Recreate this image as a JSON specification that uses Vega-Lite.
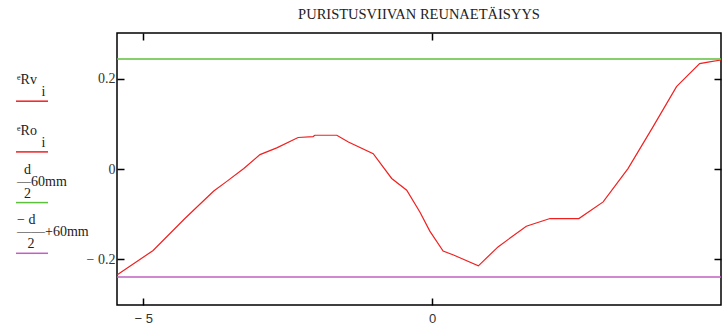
{
  "$schema": "https://vega.github.io/schema/vega-lite/v6.json",
  "background": "white",
  "padding": {"left": 10, "top": 6, "right": 0, "bottom": 0},
  "bounds": "flush",
  "spacing": 27,
  "config": {"view": {"stroke": null}},
  "hconcat": [
    {
      "width": 80,
      "height": 272,
      "data": {"values": [
        {"k": 1, "series": "eRv", "label": "\nᵉRv\n\u200b\u00a0\u00a0\u00a0\u00a0\u00a0\u00a0\u00a0i"},
        {"k": 2, "series": "eRo", "label": "\nᵉRo\n\u200b\u00a0\u00a0\u00a0\u00a0\u00a0\u00a0\u00a0i"},
        {"k": 3, "series": "d/2-60mm", "label": "\u200b\u00a0\u00a0d\n—60mm\n\u200b\u00a0\u00a02"},
        {"k": 4, "series": "-d/2+60mm", "label": "−\u00a0d\n——+60mm\n\u200b\u00a0\u00a0\u00a02"}
      ]},
      "encoding": {
        "y": {"field": "k", "type": "quantitative", "scale": {"domain": [-0.345, 5.02], "reverse": true, "nice": false, "zero": false}, "axis": null}
      },
      "layer": [
        {
          "mark": {"type": "rule", "strokeWidth": 1.5},
          "encoding": {
            "x": {"datum": 0.075, "type": "quantitative", "scale": {"domain": [0, 1], "nice": false}, "axis": null},
            "x2": {"datum": 0.475},
            "color": {"field": "series", "type": "nominal", "scale": {"domain": ["eRv", "eRo", "d/2-60mm", "-d/2+60mm"], "range": ["#f02020", "#f02020", "#5cc03c", "#c060c0"]}, "legend": null}
          }
        },
        {
          "mark": {"type": "text", "align": "left", "baseline": "middle", "dy": -33, "font": "Liberation Serif", "fontSize": 14, "lineBreak": "\n", "lineHeight": 12, "color": "#222"},
          "encoding": {
            "x": {"datum": 0.0875, "type": "quantitative"},
            "text": {"field": "label"}
          }
        }
      ]
    },
    {
      "width": 604,
      "height": 272,
      "title": {"text": "PURISTUSVIIVAN REUNAETÄISYYS", "font": "Liberation Serif", "fontSize": 14.5, "fontWeight": "normal", "offset": 10, "anchor": "middle", "color": "#222"},
      "view": {"stroke": "#000", "strokeWidth": 1.5},
      "layer": [
        {
          "data": {"values": [
            {"x": -5.45, "y": -0.235}, {"x": -4.83, "y": -0.181}, {"x": -4.28, "y": -0.11},
            {"x": -3.78, "y": -0.049}, {"x": -3.56, "y": -0.028}, {"x": -3.26, "y": 0.001},
            {"x": -2.98, "y": 0.032}, {"x": -2.69, "y": 0.047}, {"x": -2.32, "y": 0.07},
            {"x": -2.06, "y": 0.072}, {"x": -2.03, "y": 0.075}, {"x": -1.65, "y": 0.075},
            {"x": -1.45, "y": 0.06}, {"x": -1.02, "y": 0.034}, {"x": -0.7, "y": -0.021},
            {"x": -0.44, "y": -0.047}, {"x": -0.21, "y": -0.096}, {"x": -0.04, "y": -0.138},
            {"x": 0.19, "y": -0.182}, {"x": 0.37, "y": -0.191}, {"x": 0.8, "y": -0.215},
            {"x": 1.14, "y": -0.173}, {"x": 1.63, "y": -0.127}, {"x": 2.04, "y": -0.11},
            {"x": 2.54, "y": -0.11}, {"x": 2.96, "y": -0.073}, {"x": 3.39, "y": 0.001},
            {"x": 3.82, "y": 0.093}, {"x": 4.23, "y": 0.183}, {"x": 4.63, "y": 0.234},
            {"x": 4.8, "y": 0.238}, {"x": 5.0, "y": 0.242}
          ]},
          "mark": {"type": "line", "color": "#f02020", "strokeWidth": 1.2},
          "encoding": {
            "x": {"field": "x", "type": "quantitative", "scale": {"domain": [-5.455, 5], "nice": false, "zero": false},
              "axis": {"orient": "bottom", "values": [-5, 0], "title": null, "domain": false, "grid": false, "tickSize": -7, "tickWidth": 1.5, "tickColor": "#000", "labelPadding": 14, "labelFont": "Liberation Sans", "labelFontSize": 13, "labelColor": "#333", "format": "~g", "labelExpr": "replace(datum.label, '−', '− ')"}},
            "y": {"field": "y", "type": "quantitative", "scale": {"domain": [-0.302, 0.302], "nice": false, "zero": false},
              "axis": {"orient": "left", "values": [-0.2, 0, 0.2], "title": null, "domain": false, "grid": false, "tickSize": -7, "tickWidth": 1.5, "tickColor": "#000", "labelPadding": 9, "labelFont": "Liberation Serif", "labelFontSize": 14, "labelColor": "#333", "format": "~g", "labelExpr": "replace(datum.label, '−', '− ')"}}
          }
        },
        {
          "data": {"values": [
            {"series": "d/2-60mm", "y": 0.244},
            {"series": "-d/2+60mm", "y": -0.24}
          ]},
          "mark": {"type": "rule", "strokeWidth": 1.5},
          "encoding": {
            "y": {"field": "y", "type": "quantitative",
              "axis": {"orient": "right", "values": [-0.2, 0, 0.2], "labels": false, "title": null, "domain": false, "grid": false, "tickSize": -7, "tickWidth": 1.5, "tickColor": "#000"}},
            "x": {"datum": -5.455, "type": "quantitative",
              "axis": {"orient": "top", "values": [-5, 0], "labels": false, "title": null, "domain": false, "grid": false, "tickSize": -7, "tickWidth": 1.5, "tickColor": "#000"}},
            "x2": {"datum": 5},
            "color": {"field": "series", "type": "nominal", "scale": {"domain": ["eRv", "eRo", "d/2-60mm", "-d/2+60mm"], "range": ["#f02020", "#f02020", "#5cc03c", "#c060c0"]}, "legend": null}
          }
        }
      ],
      "resolve": {"axis": {"x": "independent", "y": "independent"}}
    }
  ]
}
